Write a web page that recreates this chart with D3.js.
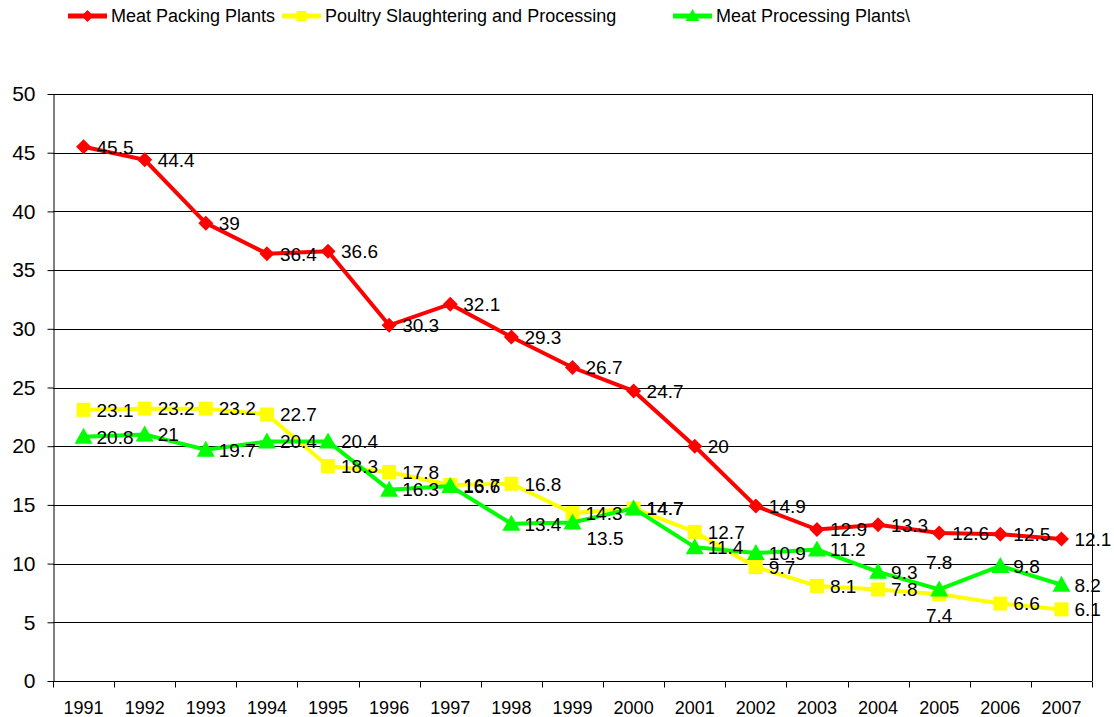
<!DOCTYPE html>
<meta charset="utf-8">
<style>
body { margin: 0; background: #fff; }
text { font-family: "Liberation Sans", Arial, sans-serif; fill: #000; }
.grid line { stroke: #000; stroke-width: 1; }
.axis path, .axis line { stroke: #000; }
</style>
<svg width="1114" height="717"></svg>
<script src="https://cdnjs.cloudflare.com/ajax/libs/d3/7.8.5/d3.min.js"></script>
<script>
var years = ["1991","1992","1993","1994","1995","1996","1997","1998","1999","2000","2001","2002","2003","2004","2005","2006","2007"];
var meatPacking = [45.5, 44.4, 39, 36.4, 36.6, 30.3, 32.1, 29.3, 26.7, 24.7, 20, 14.9, 12.9, 13.3, 12.6, 12.5, 12.1];
var poultry = [23.1, 23.2, 23.2, 22.7, 18.3, 17.8, 16.7, 16.8, 14.3, 14.7, 12.7, 9.7, 8.1, 7.8, 7.4, 6.6, 6.1];
var meatProcessing = [20.8, 21, 19.7, 20.4, 20.4, 16.3, 16.6, 13.4, 13.5, 14.7, 11.4, 10.9, 11.2, 9.3, 7.8, 9.8, 8.2];
var seriesNames = ["Meat Packing Plants", "Poultry Slaughtering and Processing", "Meat Processing Plants\\"];
var yTicks = [0, 5, 10, 15, 20, 25, 30, 35, 40, 45, 50];

var series = [
  { name: seriesNames[0], values: meatPacking, color: "#ff0000", shape: "diamond" },
  { name: seriesNames[1], values: poultry, color: "#ffff00", shape: "square" },
  { name: seriesNames[2], values: meatProcessing, color: "#00ff00", shape: "triangle" }
];

var svg = d3.select("svg");
var plotLeft = 53, plotRight = 1092, plotTop = 94, plotBottom = 681;

var x = d3.scaleBand().domain(years).range([plotLeft, plotRight]).padding(0);
var y = d3.scaleLinear().domain([0, 50]).range([plotBottom, plotTop]);

// gridlines
svg.append("g").attr("class", "grid")
  .selectAll("line").data(yTicks).enter().append("line")
    .attr("x1", plotLeft).attr("x2", plotRight)
    .attr("y1", function(d) { return Math.round(y(d)) + 0.5; })
    .attr("y2", function(d) { return Math.round(y(d)) + 0.5; });

// right border of plot area
svg.append("line")
  .attr("x1", plotRight + 0.5).attr("x2", plotRight + 0.5).attr("y1", plotTop).attr("y2", plotBottom)
  .attr("stroke", "#000");

// y axis
var yAxis = svg.append("g").attr("class", "axis")
  .attr("transform", "translate(" + (plotLeft + 0.5) + ",0)")
  .call(d3.axisLeft(y).tickValues(yTicks).tickSize(6).tickPadding(12).tickSizeOuter(0));
yAxis.selectAll("text").style("font-size", "21px").attr("fill", "#000");

// x axis with ticks at category boundaries
var xAxis = svg.append("g").attr("class", "axis")
  .attr("transform", "translate(0," + (plotBottom + 0.5) + ")");
xAxis.append("line").attr("x1", plotLeft).attr("x2", plotRight).attr("stroke", "#000");
var bounds = years.map(function(d) { return x(d); }).concat([plotRight]);
xAxis.selectAll(".tk").data(bounds).enter().append("line")
  .attr("x1", function(d) { return Math.round(d) + 0.5; }).attr("x2", function(d) { return Math.round(d) + 0.5; })
  .attr("y1", 0).attr("y2", 6).attr("stroke", "#000");
xAxis.selectAll(".yr").data(years).enter().append("text")
  .attr("x", function(d) { return x(d) + x.bandwidth() / 2; })
  .attr("y", 32)
  .attr("text-anchor", "middle")
  .style("font-size", "18px")
  .text(function(d) { return d; });

function marker(g, shape, color, cx, cy, s) {
  if (shape === "diamond") {
    g.append("path")
      .attr("d", "M" + cx + "," + (cy - s) + "L" + (cx + s) + "," + cy + "L" + cx + "," + (cy + s) + "L" + (cx - s) + "," + cy + "Z")
      .attr("fill", color);
  } else if (shape === "square") {
    g.append("rect")
      .attr("x", cx - s + 1).attr("y", cy - s + 1).attr("width", 2 * s - 2).attr("height", 2 * s - 2)
      .attr("fill", color);
  } else {
    g.append("path")
      .attr("d", "M" + cx + "," + (cy - s - 1) + "L" + (cx + s + 1) + "," + (cy + s - 1) + "L" + (cx - s - 1) + "," + (cy + s - 1) + "Z")
      .attr("fill", color);
  }
}

var line = d3.line()
  .x(function(d, i) { return x(years[i]) + x.bandwidth() / 2; })
  .y(function(d) { return y(d); });

series.forEach(function(s) {
  var g = svg.append("g");
  g.append("path").datum(s.values)
    .attr("d", line)
    .attr("fill", "none")
    .attr("stroke", s.color)
    .attr("stroke-width", 4);
  s.values.forEach(function(v, i) {
    marker(g, s.shape, s.color, x(years[i]) + x.bandwidth() / 2, y(v), s.shape === "diamond" ? 7.5 : 8);
  });
});

// data labels (a few were moved by hand in the original)
var moved = {
  "2|1999": { dx: 14, dy: 16, anchor: "start" },
  "1|2005": { dx: 0, dy: 21, anchor: "middle" },
  "2|2005": { dx: 0, dy: -27, anchor: "middle" }
};
series.forEach(function(s, si) {
  s.values.forEach(function(v, i) {
    var m = moved[si + "|" + years[i]] || { dx: 13, dy: 0, anchor: "start" };
    svg.append("text")
      .attr("x", x(years[i]) + x.bandwidth() / 2 + m.dx)
      .attr("y", y(v) + m.dy)
      .attr("dy", "0.36em")
      .attr("text-anchor", m.anchor)
      .style("font-size", "19px")
      .text(v);
  });
});

// legend
var legendX = [68, 282, 673];
series.forEach(function(s, i) {
  var g = svg.append("g").attr("transform", "translate(" + legendX[i] + ",16)");
  g.append("line").attr("x1", 0).attr("x2", 39).attr("stroke", s.color).attr("stroke-width", 5);
  marker(g, s.shape, s.color, 19.5, 0, 6);
  g.append("text").attr("x", 43).attr("dy", "0.36em").style("font-size", "18px").text(s.name);
});
</script>
